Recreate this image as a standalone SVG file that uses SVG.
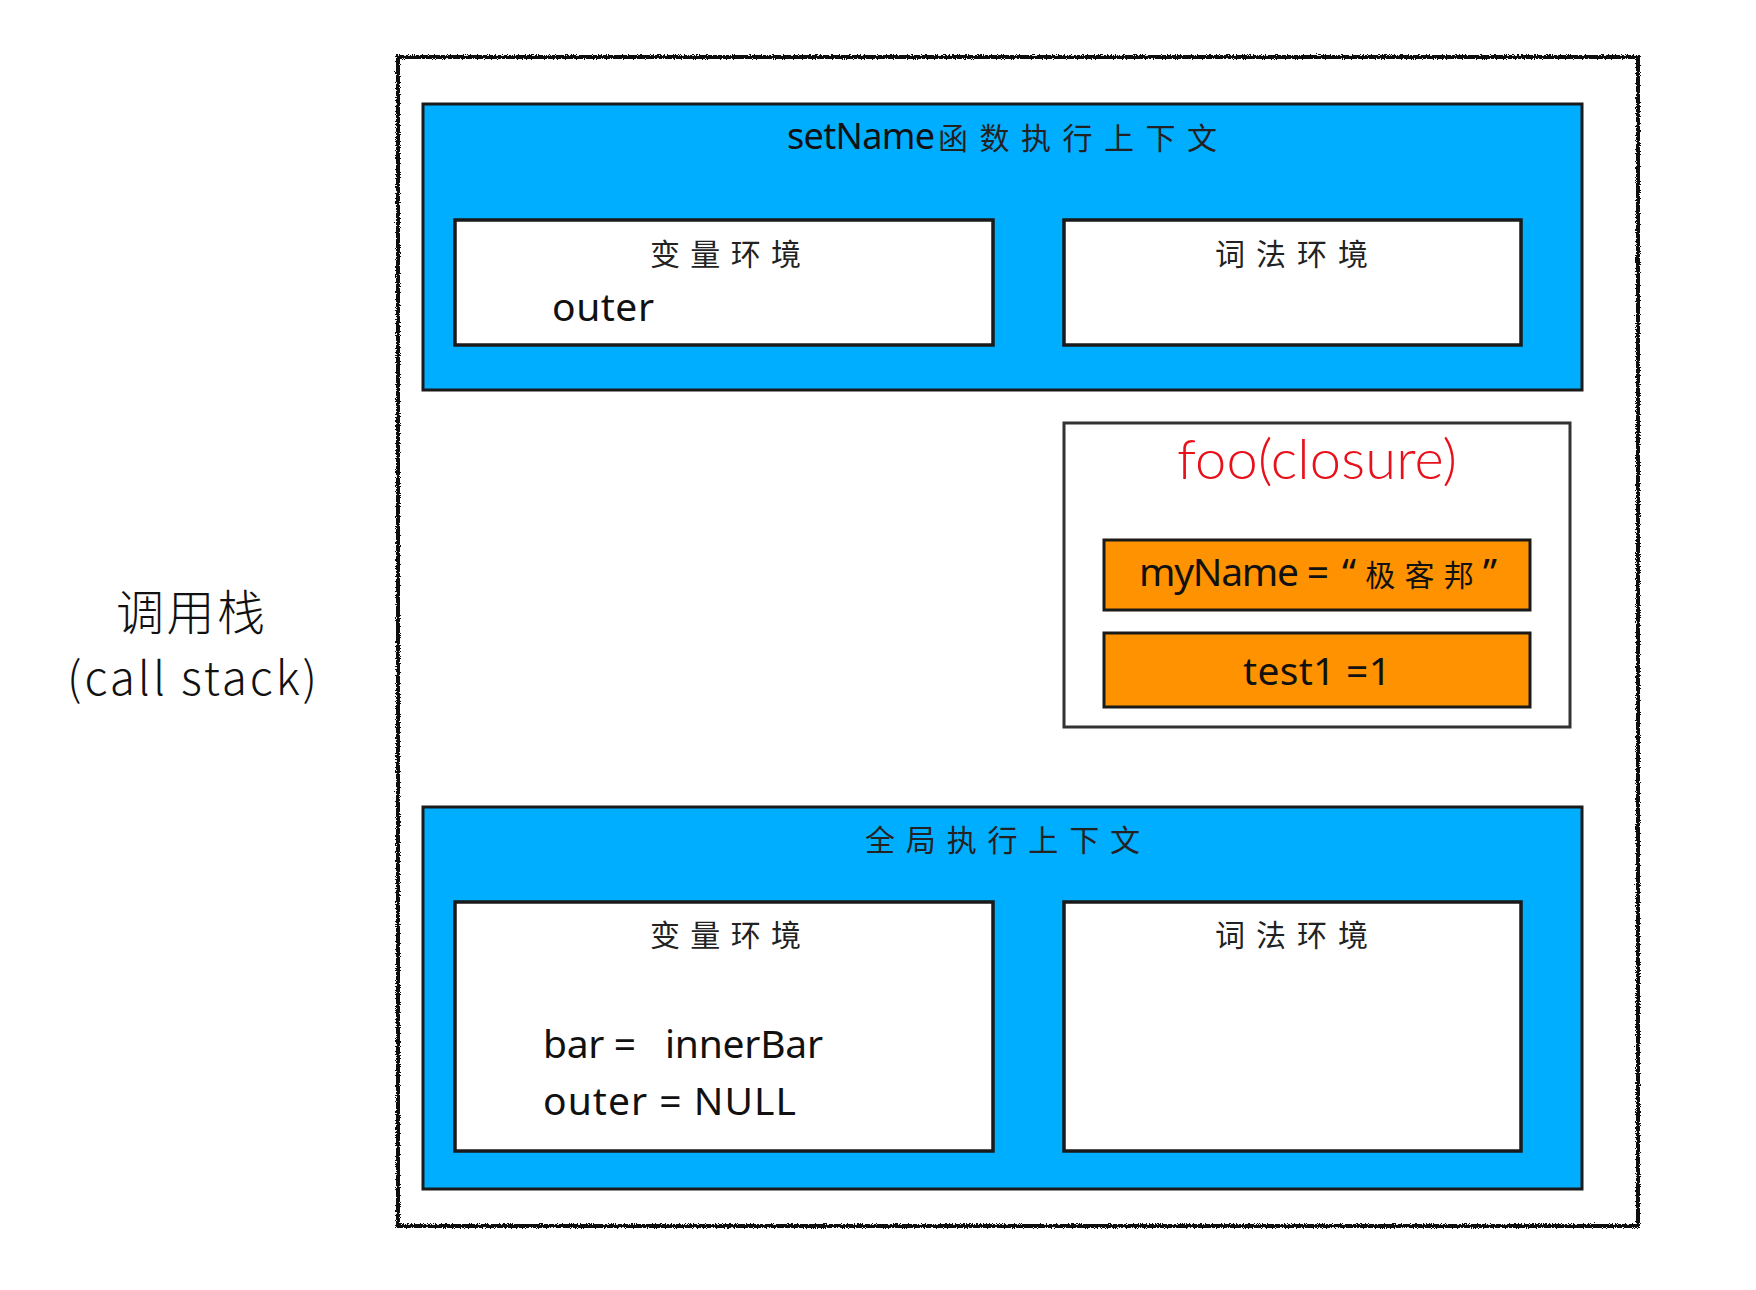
<svg xmlns="http://www.w3.org/2000/svg" width="1756" height="1290" viewBox="0 0 1756 1290">
  <style>
    .ctx { fill: #00aeff; stroke: #1a1a1a; stroke-width: 3; }
    .env { fill: #ffffff; stroke: #1a1a1a; stroke-width: 3.5; }
    .closure { fill: #ffffff; stroke: #333333; stroke-width: 3; }
    .item { fill: #ff9200; stroke: #1a1a1a; stroke-width: 3; }
    .hand { font-family: "Noto Sans", "Noto Sans CJK SC", sans-serif; fill: #111111; }
    .cjk { font-family: "Noto Sans CJK SC", "Noto Sans", sans-serif; fill: #222222; font-size: 30px; }
    .body { font-size: 39px; }
    .label { font-family: "Noto Sans CJK SC", "Noto Sans", sans-serif; font-weight: 300; fill: #111111; }
    .red { font-family: "Lato", "Open Sans", sans-serif; font-weight: 300; fill: #e8101a; font-size: 56px; }
  </style>
  <defs>
    <!-- jittered outline for the sketched stack frame -->
    <filter id="rough" x="-2%" y="-2%" width="104%" height="104%">
      <feTurbulence type="fractalNoise" baseFrequency="0.9" numOctaves="2" seed="7" result="noise"/>
      <feDisplacementMap in="SourceGraphic" in2="noise" scale="4.5" xChannelSelector="R" yChannelSelector="G"/>
    </filter>
  </defs>

  <rect width="1756" height="1290" fill="#ffffff"/>

  <!-- side label -->
  <g id="callstack-label">
    <text class="label" x="116" y="630" font-size="48" textLength="149">调用栈</text>
    <text class="label" x="67" y="695" font-size="46" textLength="250">(call stack)</text>
  </g>

  <!-- call stack frame: solid core line plus a rough sketched pass -->
  <g id="stack-frame">
    <rect x="398" y="57" width="1240" height="1169" fill="none" stroke="#111111" stroke-width="2.2"/>
    <rect x="398" y="57" width="1240" height="1169" fill="none" stroke="#111111" stroke-width="4" filter="url(#rough)"/>
  </g>

  <!-- setName execution context -->
  <g id="setname-context">
    <rect class="ctx" x="423" y="104" width="1159" height="286"/>
    <text class="hand" y="149"><tspan x="787" font-size="36" textLength="148">setName</tspan><tspan class="cjk" x="938" textLength="279">函数执行上下文</tspan></text>
  </g>
  <g id="setname-variable-env">
    <rect class="env" x="455" y="220" width="538" height="125"/>
    <text class="cjk" x="650" y="265" textLength="151">变量环境</text>
    <text class="hand body" x="552" y="321" textLength="102">outer</text>
  </g>
  <g id="setname-lexical-env">
    <rect class="env" x="1064" y="220" width="457" height="125"/>
    <text class="cjk" x="1215" y="265" textLength="153">词法环境</text>
  </g>

  <!-- closure of foo -->
  <g id="foo-closure">
    <rect class="closure" x="1064" y="423" width="506" height="304"/>
    <text class="red" x="1177" y="479" textLength="280">foo(closure)</text>
  </g>
  <g id="closure-myname">
    <rect class="item" x="1104" y="540" width="426" height="70"/>
    <text class="hand body" y="586"><tspan x="1139" textLength="190">myName =</tspan><tspan x="1342" textLength="155">“<tspan font-size="30">极客邦</tspan>”</tspan></text>
  </g>
  <g id="closure-test1">
    <rect class="item" x="1104" y="633" width="426" height="74"/>
    <text class="hand body" x="1243" y="685" textLength="148">test1 =1</text>
  </g>

  <!-- global execution context -->
  <g id="global-context">
    <rect class="ctx" x="423" y="807" width="1159" height="382"/>
    <text class="cjk" x="865" y="851" textLength="275">全局执行上下文</text>
  </g>
  <g id="global-variable-env">
    <rect class="env" x="455" y="902" width="538" height="249"/>
    <text class="cjk" x="650" y="946" textLength="151">变量环境</text>
    <text class="hand body" y="1058"><tspan x="543" textLength="93">bar =</tspan><tspan x="665" textLength="158">innerBar</tspan></text>
    <text class="hand body" x="543" y="1115" textLength="253">outer = NULL</text>
  </g>
  <g id="global-lexical-env">
    <rect class="env" x="1064" y="902" width="457" height="249"/>
    <text class="cjk" x="1215" y="946" textLength="153">词法环境</text>
  </g>
</svg>
